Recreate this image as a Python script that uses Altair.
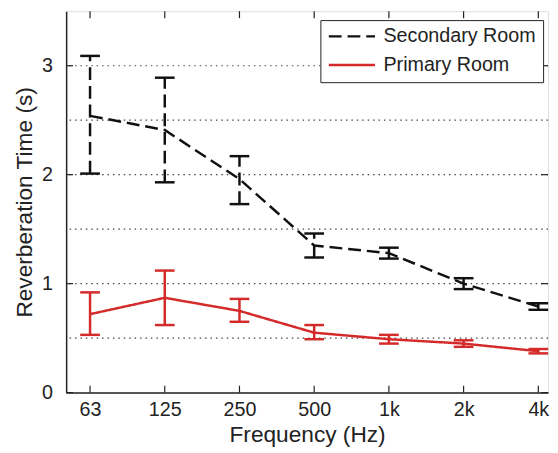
import altair as alt
import pandas as pd

freq_labels = ["63", "125", "250", "500", "1k", "2k", "4k"]
rooms = ["Secondary Room", "Primary Room"]

sec_mean = [2.54, 2.41, 1.96, 1.35, 1.28, 1.00, 0.79]
sec_hi = [3.09, 2.89, 2.17, 1.46, 1.33, 1.05, 0.82]
sec_lo = [2.01, 1.93, 1.73, 1.24, 1.23, 0.95, 0.76]

pri_mean = [0.72, 0.87, 0.75, 0.55, 0.49, 0.45, 0.38]
pri_hi = [0.92, 1.12, 0.86, 0.62, 0.53, 0.48, 0.40]
pri_lo = [0.53, 0.62, 0.65, 0.49, 0.45, 0.42, 0.36]

grid_vals = [0.5, 1.0, 1.5, 2.0, 2.5, 3.0]
ytick_vals = [0, 1, 2, 3]

rows = []
for i, f in enumerate(freq_labels):
    rows.append(dict(room=rooms[0], idx=i, freq=f, mean=sec_mean[i], hi=sec_hi[i], lo=sec_lo[i]))
for i, f in enumerate(freq_labels):
    rows.append(dict(room=rooms[1], idx=i, freq=f, mean=pri_mean[i], hi=pri_hi[i], lo=pri_lo[i]))
df = pd.DataFrame(rows)

W, H = 489, 387
FONT = "Liberation Sans"
label_expr = "[" + ",".join('"%s"' % l for l in freq_labels) + "][datum.value]"

xscale = alt.Scale(domain=[-0.32, 6.13], nice=False, zero=False)
yscale = alt.Scale(domain=[0, 3.5], nice=False)

leg = alt.Legend(title=None, orient="none", legendX=258, legendY=9,
                 symbolType="stroke", symbolSize=2200, symbolStrokeWidth=2.5,
                 labelFont=FONT, labelFontSize=20, labelColor="#222",
                 strokeColor="#222", fillColor="white", padding=7,
                 clipHeight=19, rowPadding=8, labelOffset=7, labelLimit=300)
color = alt.Color("room:N", scale=alt.Scale(domain=rooms, range=["#111111", "#d42a2a"]), legend=leg)
dash = alt.StrokeDash("room:N", scale=alt.Scale(domain=rooms, range=[[13, 6], [1, 0]]), legend=leg)

base = alt.Chart(df)

grid = alt.Chart(pd.DataFrame({"g": grid_vals})).mark_rule(
    color="#444", strokeDash=[1.5, 4], strokeWidth=1.2
).encode(y=alt.Y("g:Q", scale=yscale))

line = base.mark_line(strokeWidth=2.5).encode(
    x=alt.X("idx:Q", scale=xscale,
            axis=alt.Axis(values=list(range(7)), labelExpr=label_expr, ticks=False, grid=False,
                          title="Frequency (Hz)", labelFont=FONT, labelFontSize=20, labelColor="#222",
                          titleFont=FONT, titleFontSize=23, titleFontWeight="normal", titleColor="#222",
                          labelPadding=7, titlePadding=5, domainColor="#222", domainWidth=1.5)),
    y=alt.Y("mean:Q", scale=yscale,
            axis=alt.Axis(values=ytick_vals, format="d", ticks=False, grid=False,
                          title="Reverberation Time (s)",
                          labelFont=FONT, labelFontSize=20, labelColor="#222",
                          titleFont=FONT, titleFontSize=23, titleFontWeight="normal", titleColor="#222",
                          labelPadding=14, titlePadding=5, domainColor="#222", domainWidth=1.5)),
    color=color,
    strokeDash=dash,
)

bars = base.mark_rule(strokeWidth=2.5).encode(
    x=alt.X("idx:Q", scale=xscale),
    y=alt.Y("lo:Q", scale=yscale),
    y2="hi:Q",
    color=color,
    strokeDash=dash,
)

cap_hi = base.mark_tick(orient="horizontal", size=20, thickness=2.5, opacity=1).encode(
    x=alt.X("idx:Q", scale=xscale), y=alt.Y("hi:Q", scale=yscale), color=color)
cap_lo = base.mark_tick(orient="horizontal", size=20, thickness=2.5, opacity=1).encode(
    x=alt.X("idx:Q", scale=xscale), y=alt.Y("lo:Q", scale=yscale), color=color)

tick_df = pd.DataFrame({"idx": list(range(7))})
xt_bot = alt.Chart(tick_df).mark_rule(color="#222", strokeWidth=1.2).encode(
    x=alt.X("idx:Q", scale=xscale), y=alt.value(H), y2=alt.value(H - 7))
xt_top = alt.Chart(tick_df).mark_rule(color="#222", strokeWidth=1.2).encode(
    x=alt.X("idx:Q", scale=xscale), y=alt.value(0), y2=alt.value(7))
yt_df = pd.DataFrame({"v": ytick_vals})
yt_left = alt.Chart(yt_df).mark_rule(color="#222", strokeWidth=1.2).encode(
    y=alt.Y("v:Q", scale=yscale), x=alt.value(0), x2=alt.value(7))
yt_right = alt.Chart(yt_df).mark_rule(color="#222", strokeWidth=1.2).encode(
    y=alt.Y("v:Q", scale=yscale), x=alt.value(W), x2=alt.value(W - 7))

chart = alt.layer(grid, xt_bot, xt_top, yt_left, yt_right, bars, cap_hi, cap_lo, line).properties(
    width=W, height=H,
    autosize=alt.AutoSizeParams(type="none"),
    padding={"left": 59, "top": 0, "right": 2, "bottom": 58},
).configure_view(stroke="#222", strokeWidth=1.5).configure(background="white")

chart.save("out.html", embed_options={"renderer": "svg", "actions": False})
